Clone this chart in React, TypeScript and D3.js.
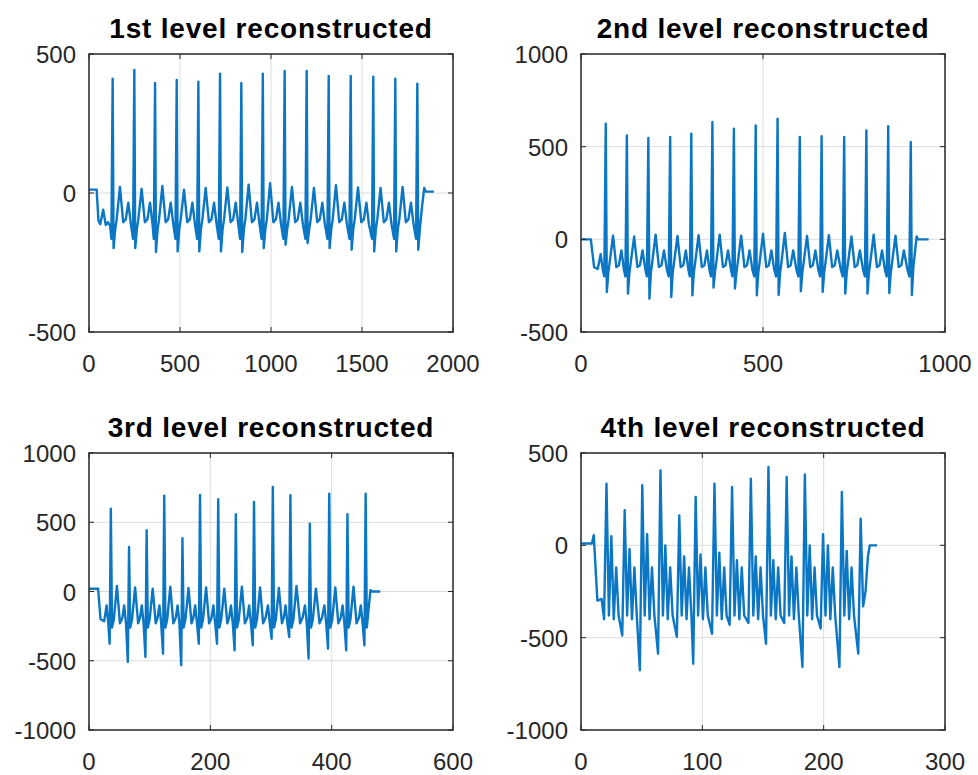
import React from 'react';
import * as d3 from 'd3';

// reconstructed signals, [sample, value] vertices
const level1: [number, number][] = [
  [0, 12], [42, 12], [52, -100], [62, -112], [78, -60], [92, -115], [104, -105], [116, -118],
  [123, -165], [130, 411], [135, -198], [144, -130], [152, -95], [170, 22], [188, -105], [202, -95], [216, -35], [230, -112],
  [242, -165], [249, 443], [254, -198], [263, -130], [271, -95], [289, 15], [307, -105], [321, -95], [335, -35], [349, -112],
  [356, -165], [363, 396], [368, -212], [377, -130], [385, -95], [403, 25], [421, -105], [435, -95], [449, -35], [463, -112],
  [475, -165], [482, 407], [487, -210], [496, -130], [504, -95], [522, 12], [540, -105], [554, -95], [568, -35], [582, -112],
  [594, -165], [601, 400], [606, -210], [615, -130], [623, -95], [641, 18], [659, -105], [673, -95], [687, -35], [701, -112],
  [713, -165], [720, 429], [725, -210], [734, -130], [742, -95], [760, 20], [778, -105], [792, -95], [806, -35], [820, -112],
  [830, -165], [837, 396], [842, -212], [851, -130], [859, -95], [877, 30], [895, -105], [909, -95], [923, -35], [937, -112],
  [948, -165], [955, 429], [960, -198], [969, -130], [977, -95], [995, 35], [1013, -105], [1027, -95], [1041, -35], [1055, -112],
  [1068, -165], [1075, 439], [1080, -186], [1089, -130], [1097, -95], [1115, 22], [1133, -105], [1147, -95], [1161, -35], [1175, -112],
  [1189, -165], [1196, 439], [1201, -180], [1210, -130], [1218, -95], [1236, 18], [1254, -105], [1268, -95], [1282, -35], [1296, -112],
  [1310, -165], [1317, 421], [1322, -198], [1331, -130], [1339, -95], [1357, 28], [1375, -105], [1389, -95], [1403, -35], [1417, -112],
  [1431, -165], [1438, 421], [1443, -204], [1452, -130], [1460, -95], [1478, 20], [1496, -105], [1510, -95], [1524, -35], [1538, -112],
  [1555, -165], [1562, 418], [1567, -210], [1576, -130], [1584, -95], [1602, 18], [1620, -105], [1634, -95], [1648, -35], [1662, -112],
  [1676, -165], [1683, 411], [1688, -210], [1697, -130], [1705, -95], [1723, 22], [1741, -105], [1755, -95], [1769, -35], [1783, -112],
  [1797, -165], [1804, 393], [1809, -204], [1818, -130], [1828, -60], [1842, 18], [1850, 5], [1895, 5],
];

const level2: [number, number][] = [
  [0, 0], [27, 0], [36, -150], [46, -160], [54, -80], [60, -165],
  [64, -200], [68, 624], [71, -284], [75, -180], [79, -120], [88, 20], [97, -150], [104, -140], [111, -60], [118, -165],
  [122, -200], [126, 561], [129, -293], [133, -180], [137, -120], [146, 15], [155, -150], [162, -140], [169, -60], [177, -165],
  [181, -200], [185, 547], [188, -320], [192, -180], [196, -120], [205, 25], [214, -150], [221, -140], [228, -60], [236, -165],
  [241, -200], [245, 552], [248, -311], [252, -180], [256, -120], [265, 18], [274, -150], [281, -140], [288, -60], [295, -165],
  [299, -200], [303, 570], [306, -302], [310, -180], [314, -120], [323, 22], [332, -150], [339, -140], [346, -60], [353, -165],
  [357, -200], [361, 633], [364, -260], [368, -180], [372, -120], [381, 25], [390, -150], [397, -140], [404, -60], [412, -165],
  [416, -200], [420, 597], [423, -265], [427, -180], [431, -120], [440, 20], [449, -150], [456, -140], [463, -60], [471, -165],
  [476, -200], [480, 615], [483, -302], [487, -180], [491, -120], [500, 30], [509, -150], [516, -140], [523, -60], [531, -165],
  [536, -200], [540, 651], [543, -300], [547, -180], [551, -120], [560, 35], [569, -150], [576, -140], [583, -60], [592, -165],
  [597, -200], [601, 552], [604, -280], [608, -180], [612, -120], [621, 18], [630, -150], [637, -140], [644, -60], [652, -165],
  [657, -200], [661, 556], [664, -284], [668, -180], [672, -120], [681, 22], [690, -150], [697, -140], [704, -60], [714, -165],
  [719, -200], [723, 552], [726, -293], [730, -180], [734, -120], [743, 15], [752, -150], [759, -140], [766, -60], [775, -165],
  [780, -200], [784, 588], [787, -293], [791, -180], [795, -120], [804, 25], [813, -150], [820, -140], [827, -60], [835, -165],
  [840, -200], [844, 610], [847, -290], [851, -180], [855, -120], [864, 20], [873, -150], [880, -140], [887, -60], [897, -165],
  [902, -200], [906, 525], [909, -300], [913, -150], [918, -60], [922, 15], [926, 0], [955, 0],
];

const level3: [number, number][] = [
  [0, 20], [15, 20], [19, -200], [25, -215], [29, -100], [32, -240],
  [34, -377], [36, 598], [38, -260], [41, -200], [46, 40], [51, -230], [55, -190], [58, -100], [61, -230],
  [64, -509], [66, 321], [68, -260], [71, -200], [76, 30], [81, -230], [84, -190], [87, -100], [90, -230],
  [93, -473], [95, 442], [97, -260], [100, -200], [105, 20], [110, -230], [113, -190], [116, -100], [119, -230],
  [122, -449], [124, 691], [126, -260], [129, -200], [134, 35], [139, -230], [143, -190], [146, -100], [149, -230],
  [152, -533], [154, 385], [156, -260], [159, -200], [164, 25], [169, -230], [172, -190], [175, -100], [178, -230],
  [181, -377], [183, 698], [185, -260], [188, -200], [193, 30], [198, -230], [202, -190], [205, -100], [208, -230],
  [211, -377], [213, 666], [215, -260], [218, -200], [223, 20], [228, -230], [231, -190], [234, -100], [237, -230],
  [240, -425], [242, 558], [244, -260], [247, -200], [252, 35], [257, -230], [261, -190], [264, -100], [267, -230],
  [270, -389], [272, 646], [274, -260], [277, -200], [282, 30], [287, -230], [291, -190], [295, -100], [298, -230],
  [301, -341], [303, 755], [305, -260], [308, -200], [313, 25], [318, -230], [321, -190], [324, -100], [327, -230],
  [330, -329], [332, 695], [334, -260], [337, -200], [342, 40], [348, -230], [352, -190], [356, -100], [359, -230],
  [362, -485], [364, 490], [366, -260], [369, -200], [374, 20], [380, -230], [384, -190], [388, -100], [391, -230],
  [394, -413], [396, 706], [398, -260], [401, -200], [406, 30], [411, -230], [415, -190], [418, -100], [421, -230],
  [424, -425], [426, 558], [428, -260], [431, -200], [436, 35], [441, -230], [445, -190], [448, -100], [451, -230],
  [454, -389], [456, 706], [458, -260], [461, -120], [464, 10], [467, 0], [480, 0],
];

const level4: [number, number][] = [
  [0, 10], [9, 10], [10.5, 55], [13.5, -300], [17, -290],
  [19, -400], [21, 334], [23, -380], [25, 50], [27, -400], [29, -120], [31, -380],
  [34, -488], [36, 190], [38, -380], [40, -20], [42, -400], [44, -120], [46, -380],
  [48.5, -677], [50.5, 325], [52.5, -380], [54.5, 60], [56.5, -400], [58.5, -120], [60.5, -380],
  [63.5, -587], [65.5, 406], [67.5, -380], [69.5, 0], [71.5, -400], [73.5, -120], [75.5, -380],
  [79, -495], [81, 162], [83, -380], [85, -60], [87, -400], [89, -120], [91, -380],
  [92.5, -641], [94.5, 262], [96.5, -380], [98.5, -50], [100.5, -400], [102.5, -120], [104.5, -380],
  [108, -479], [110, 334], [112, -380], [114, -40], [116, -400], [118, -120], [120, -380],
  [122.5, -430], [124.5, 316], [126.5, -380], [128.5, -80], [130.5, -400], [132.5, -120], [134.5, -380],
  [138, -420], [140, 361], [142, -380], [144, -60], [146, -400], [148, -120], [150, -380],
  [152.5, -533], [154.5, 424], [156.5, -380], [158.5, -80], [160.5, -400], [162.5, -120], [164.5, -380],
  [167.5, -420], [169.5, 370], [171.5, -380], [173.5, -60], [175.5, -400], [177.5, -120], [179.5, -380],
  [182.5, -659], [184.5, 384], [186.5, -380], [188.5, 0], [190.5, -400], [192.5, -120], [194.5, -380],
  [197.5, -450], [199.5, 60], [201.5, -380], [203.5, 0], [205.5, -400], [207.5, -120], [209.5, -380],
  [213, -659], [215, 289], [217, -380], [219, -30], [221, -400], [223, -120], [225, -380],
  [228.5, -587], [230.5, 144], [232.5, -330], [234.5, -250], [236.5, -60], [238, 0], [244, 0],
];

const titles = ['1st level reconstructed', '2nd level reconstructed', '3rd level reconstructed', '4th level reconstructed'];
const xTicks = [[0, 500, 1000, 1500, 2000], [0, 500, 1000], [0, 200, 400, 600], [0, 100, 200, 300]];
const yTicks = [[-500, 0, 500], [-500, 0, 500, 1000], [-1000, -500, 0, 500, 1000], [-1000, -500, 0, 500]];
const series = [level1, level2, level3, level4];

// axes boxes in page pixels
const boxes = [
  {left: 89, top: 54, right: 453, bottom: 332},
  {left: 581, top: 54, right: 945, bottom: 332},
  {left: 89, top: 453, right: 453, bottom: 730},
  {left: 581, top: 453, right: 945, bottom: 730},
];

const axisColor = '#262626';
const font = '"Liberation Sans", Arial, Helvetica, sans-serif';

const Panel = ({i}: {i: number}) => {
  const b = boxes[i];
  const xt = xTicks[i];
  const yt = yTicks[i];
  const x = d3.scaleLinear().domain([xt[0], xt[xt.length - 1]]).range([b.left, b.right]);
  const y = d3.scaleLinear().domain([yt[0], yt[yt.length - 1]]).range([b.bottom, b.top]);
  const path = d3.line<[number, number]>()
    .x(d => x(d[0]))
    .y(d => y(d[1]))(series[i]);
  const tick = 5;

  return (
    <g>
      {/* grid */}
      {xt.slice(1, -1).map(t => (
        <line key={'gx' + t} x1={x(t)} x2={x(t)} y1={b.top} y2={b.bottom} stroke="#dcdcdc" strokeWidth={1} />
      ))}
      {yt.slice(1, -1).map(t => (
        <line key={'gy' + t} x1={b.left} x2={b.right} y1={y(t)} y2={y(t)} stroke="#dcdcdc" strokeWidth={1} />
      ))}

      <path d={path || ''} fill="none" stroke="#0a76c4" strokeWidth={2.4} strokeLinejoin="round" />

      {/* ticks, pointing in */}
      {xt.map(t => (
        <g key={'tx' + t}>
          <line x1={x(t)} x2={x(t)} y1={b.bottom} y2={b.bottom - tick} stroke={axisColor} />
          <line x1={x(t)} x2={x(t)} y1={b.top} y2={b.top + tick} stroke={axisColor} />
          <text x={x(t)} y={b.bottom + 40} textAnchor="middle" fontSize={24} fill={axisColor} fontFamily={font}>{t}</text>
        </g>
      ))}
      {yt.map(t => (
        <g key={'ty' + t}>
          <line x1={b.left} x2={b.left + tick} y1={y(t)} y2={y(t)} stroke={axisColor} />
          <line x1={b.right} x2={b.right - tick} y1={y(t)} y2={y(t)} stroke={axisColor} />
          <text x={b.left - 13} y={y(t) + 9} textAnchor="end" fontSize={24} fill={axisColor} fontFamily={font}>{t}</text>
        </g>
      ))}

      <rect x={b.left} y={b.top} width={b.right - b.left} height={b.bottom - b.top} fill="none" stroke={axisColor} strokeWidth={1.5} />

      <text x={(b.left + b.right) / 2} y={b.top - 16} textAnchor="middle" fontSize={28} fontWeight="bold"
        letterSpacing={0.8} fill="#000" fontFamily={font}>{titles[i]}</text>
    </g>
  );
};

export default function App() {
  return (
    <svg width={978} height={775} style={{position: 'absolute', left: 0, top: 0, background: '#fff'}}>
      {boxes.map((_, i) => <Panel key={i} i={i} />)}
    </svg>
  );
}
